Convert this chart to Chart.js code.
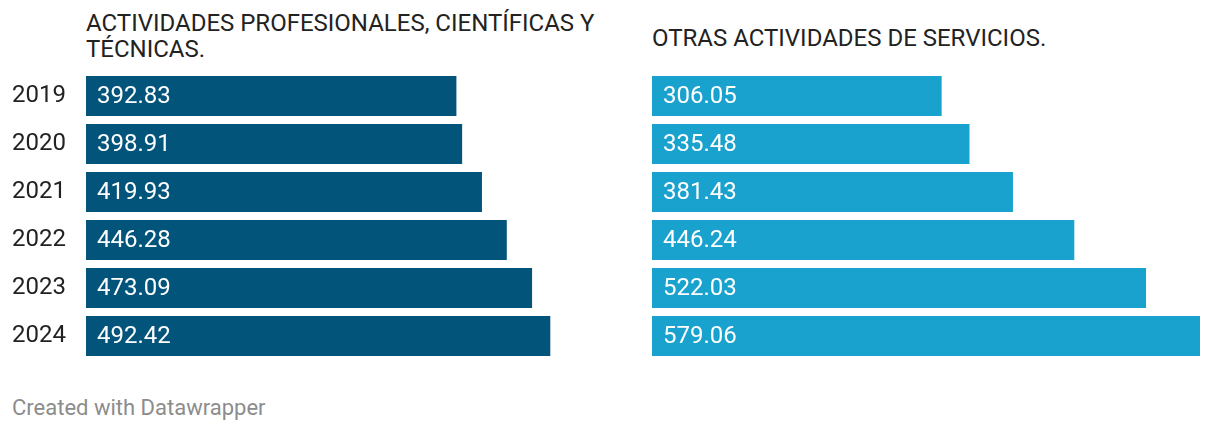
<!DOCTYPE html>
<html>
<head>
<meta charset="utf-8">
<script src="https://cdn.jsdelivr.net/npm/chart.js@4/dist/chart.umd.min.js"></script>
<style>
  body { margin: 0; width: 1220px; height: 432px; background: #fff; font-family: Roboto, sans-serif; overflow: hidden; }
  .title { position: absolute; font-size: 24px; line-height: 26px; color: #222; }
  #t1 { left: 86px; top: 10px; width: 540px; }
  #t2 { left: 652px; top: 25px; }
  .wrap { position: absolute; top: 72px; height: 288px; }
  #w1 { left: 0; width: 632px; }
  #w2 { left: 652px; width: 548px; }
  #foot { position: absolute; left: 12px; top: 395px; font-size: 22px; color: #8c8c8c; }
</style>
</head>
<body>
<div class="title" id="t1">ACTIVIDADES PROFESIONALES, CIENTÍFICAS Y TÉCNICAS.</div>
<div class="title" id="t2">OTRAS ACTIVIDADES DE SERVICIOS.</div>
<div class="wrap" id="w1"><canvas id="c1"></canvas></div>
<div class="wrap" id="w2"><canvas id="c2"></canvas></div>
<div id="foot">Created with Datawrapper</div>
<script>
const years = ['2019', '2020', '2021', '2022', '2023', '2024'];
const profesionales = [392.83, 398.91, 419.93, 446.28, 473.09, 492.42];
const otrosServicios = [306.05, 335.48, 381.43, 446.24, 522.03, 579.06];

// both panels share the same scale
const maxVal = Math.max(...profesionales, ...otrosServicios);

// value text inside the bars
const valueLabels = {
  id: 'valueLabels',
  afterDatasetsDraw(chart) {
    const ctx = chart.ctx;
    const meta = chart.getDatasetMeta(0);
    ctx.save();
    ctx.font = '24px Roboto';
    ctx.fillStyle = '#fff';
    ctx.textBaseline = 'middle';
    meta.data.forEach((bar, i) => {
      const v = chart.data.datasets[0].data[i];
      ctx.fillText(v.toFixed(2), bar.base + 11, bar.y + 1);
    });
    ctx.restore();
  }
};

function makeChart(id, data, color, showYears) {
  const yAxis = {
    display: showYears,
    grid: { display: false, drawTicks: false },
    border: { display: false },
    ticks: { color: '#222', font: { family: 'Roboto', size: 24 }, padding: 20 }
  };
  if (showYears) {
    yAxis.afterFit = function (scale) {
      scale.width = 86;
      scale.paddingTop = 0;
      scale.paddingBottom = 0;
    };
  }
  return new Chart(document.getElementById(id), {
    type: 'bar',
    data: {
      labels: years,
      datasets: [{ data: data, backgroundColor: color, categoryPercentage: 1, barPercentage: 40 / 48 }]
    },
    options: {
      indexAxis: 'y',
      responsive: true,
      maintainAspectRatio: false,
      animation: false,
      layout: { padding: 0 },
      plugins: { legend: { display: false }, tooltip: { enabled: false } },
      scales: {
        x: { display: false, min: 0, max: maxVal },
        y: yAxis
      }
    },
    plugins: [valueLabels]
  });
}

makeChart('c1', profesionales, '#03547b', true);
makeChart('c2', otrosServicios, '#1aa2ce', false);
</script>
</body>
</html>
